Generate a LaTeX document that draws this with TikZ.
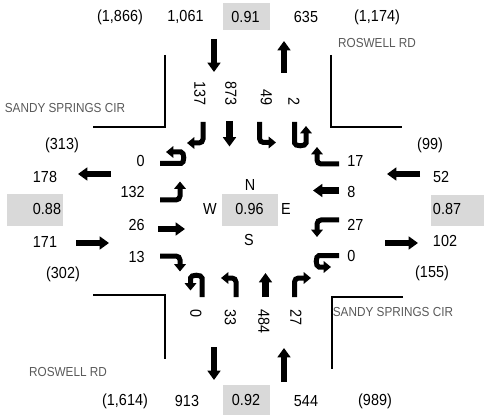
\documentclass[tikz,border=0pt]{standalone}
\usepackage{fontspec}
\setmainfont{Liberation Sans}[FakeStretch=0.9]
\usetikzlibrary{arrows.meta}
\definecolor{boxgray}{RGB}{217,217,217}
\definecolor{roadgray}{RGB}{89,89,89}
\begin{document}
\begin{tikzpicture}[x=0.75pt,y=-0.75pt,
  every node/.style={font=\fontsize{12}{14}\selectfont, inner sep=0pt},
  road/.style={font=\fontsize{9.8}{11}\selectfont, text=roadgray},
  volv/.style={rotate=-90},
  bigarrow/.style={line width=4.9pt, -{Triangle[width=9.6pt,length=7pt]}},
  turnarrow/.style={line width=3.75pt, rounded corners=3pt, -{Triangle[width=8.6pt,length=5.5pt]}},
  curb/.style={line width=1.9pt},
  gbox/.style={fill=boxgray}]
\useasboundingbox (0,0) rectangle (484,416);
% gray boxes
\fill[gbox] (223,3) rectangle (270,30);
\fill[gbox] (223,385) rectangle (270,415);
\fill[gbox] (222,194) rectangle (278,226);
\fill[gbox] (7,194) rectangle (63,226);
\fill[gbox] (431,195) rectangle (484,226);
% curbs
\draw[curb] (165,55) -- (165,127) -- (93,127);
\draw[curb] (331,55) -- (331,127) -- (402,127);
\draw[curb] (93,295) -- (165,295) -- (165,359);
\draw[curb] (403,297) -- (332,297) -- (332,369);
% road names
\node[road] (rnw) at (65,108) {SANDY SPRINGS CIR};
\node[road] (rne) at (377,43) {ROSWELL RD};
\node[road] (rsw) at (68,372) {ROSWELL RD};
\node[road] (rse) at (393,312) {SANDY SPRINGS CIR};
% top row
\node (t1) at (120,17) {(1,866)};
\node (t2) at (185.5,17) {1,061};
\node (t3) at (245.5,16.5) {0.91};
\node (t4) at (306,17) {635};
\node (t5) at (377,17) {(1,174)};
% bottom row
\node (b1) at (125,401) {(1,614)};
\node (b2) at (187,401) {913};
\node (b3) at (246,400) {0.92};
\node (b4) at (306,401) {544};
\node (b5) at (375,401) {(989)};
% left column
\node (l1) at (62,145) {(313)};
\node (l2) at (45,177) {178};
\node (l3) at (47,209) {0.88};
\node (l4) at (45,242) {171};
\node (l5) at (63,274) {(302)};
% right column
\node (r1) at (430,145) {(99)};
\node (r2) at (441,177) {52};
\node (r3) at (447,208.5) {0.87};
\node (r4) at (445,241) {102};
\node (r5) at (432,273) {(155)};
% centre
\node (cn) at (250,185) {N};
\node (cw) at (210,209) {W};
\node (cc) at (249.5,209) {0.96};
\node (ce) at (286,209) {E};
\node (cs) at (249,240) {S};
% west approach volumes
\node[anchor=east] (w1) at (145,161) {0};
\node[anchor=east] (w2) at (145,192) {132};
\node[anchor=east] (w3) at (145,225) {26};
\node[anchor=east] (w4) at (145,257) {13};
% east approach volumes
\node[anchor=west] (e1) at (347,161) {17};
\node[anchor=west] (e2) at (347,192) {8};
\node[anchor=west] (e3) at (347,225) {27};
\node[anchor=west] (e4) at (347,256) {0};
% north approach volumes
\node[volv,anchor=east] (n1) at (200,106) {137};
\node[volv,anchor=east] (n2) at (231,106) {873};
\node[volv,anchor=east] (n3) at (266.5,106) {49};
\node[volv,anchor=east] (n4) at (294,106) {2};
% south approach volumes
\node[volv,anchor=west] (s1) at (196,309) {0};
\node[volv,anchor=west] (s2) at (230.5,309) {33};
\node[volv,anchor=west] (s3) at (264,309) {484};
\node[volv,anchor=west] (s4) at (296,309) {27};
% entering / exiting arrows
\draw[bigarrow] (214,39) -- (214,72);
\draw[bigarrow] (284,73) -- (284,41);
\draw[bigarrow] (111,174) -- (78,174);
\draw[bigarrow] (76,243) -- (109,243);
\draw[bigarrow] (420,174) -- (387,174);
\draw[bigarrow] (385,243) -- (418,243);
\draw[bigarrow] (214,347) -- (214,380);
\draw[bigarrow] (284,382) -- (284,348);
% through movements
\draw[bigarrow] (158,229) -- (185,229);
\draw[bigarrow] (229.5,121) -- (229.5,146.5);
\draw[bigarrow] (339,190.5) -- (313,190.5);
\draw[bigarrow] (265.5,297) -- (265.5,273);
% west approach turns
\draw[turnarrow] (160,163.5) -- (177,163.5) .. controls (184.7,163.5) and (184.7,152) .. (177,152) -- (166,152);
\draw[turnarrow] (160,200) -- (180,200) -- (180,181.5);
\draw[turnarrow] (160,256) -- (180,256) -- (180,271.5);
% north approach turns
\draw[turnarrow] (203,122) -- (203,143) -- (187,143);
\draw[turnarrow] (259.5,122) -- (259.5,142.5) -- (276,142.5);
\draw[turnarrow] (294.5,122) -- (294.5,139) .. controls (294.5,146.7) and (306,146.7) .. (306,139) -- (306,126);
% east approach turns
\draw[turnarrow] (339,164) -- (317,164) -- (317,147);
\draw[turnarrow] (339,220) -- (317,220) -- (317,237);
\draw[turnarrow] (339,255.5) -- (323,255.5) .. controls (315.3,255.5) and (315.3,267) .. (323,267) -- (331,267);
% south approach turns
\draw[turnarrow] (202,297) -- (202,282) .. controls (202,274.3) and (190.5,274.3) .. (190.5,282) -- (190.5,290.5);
\draw[turnarrow] (236,297) -- (236,278) -- (221,278);
\draw[turnarrow] (294.5,297) -- (294.5,278) -- (311,278);
\end{tikzpicture}
\end{document}
